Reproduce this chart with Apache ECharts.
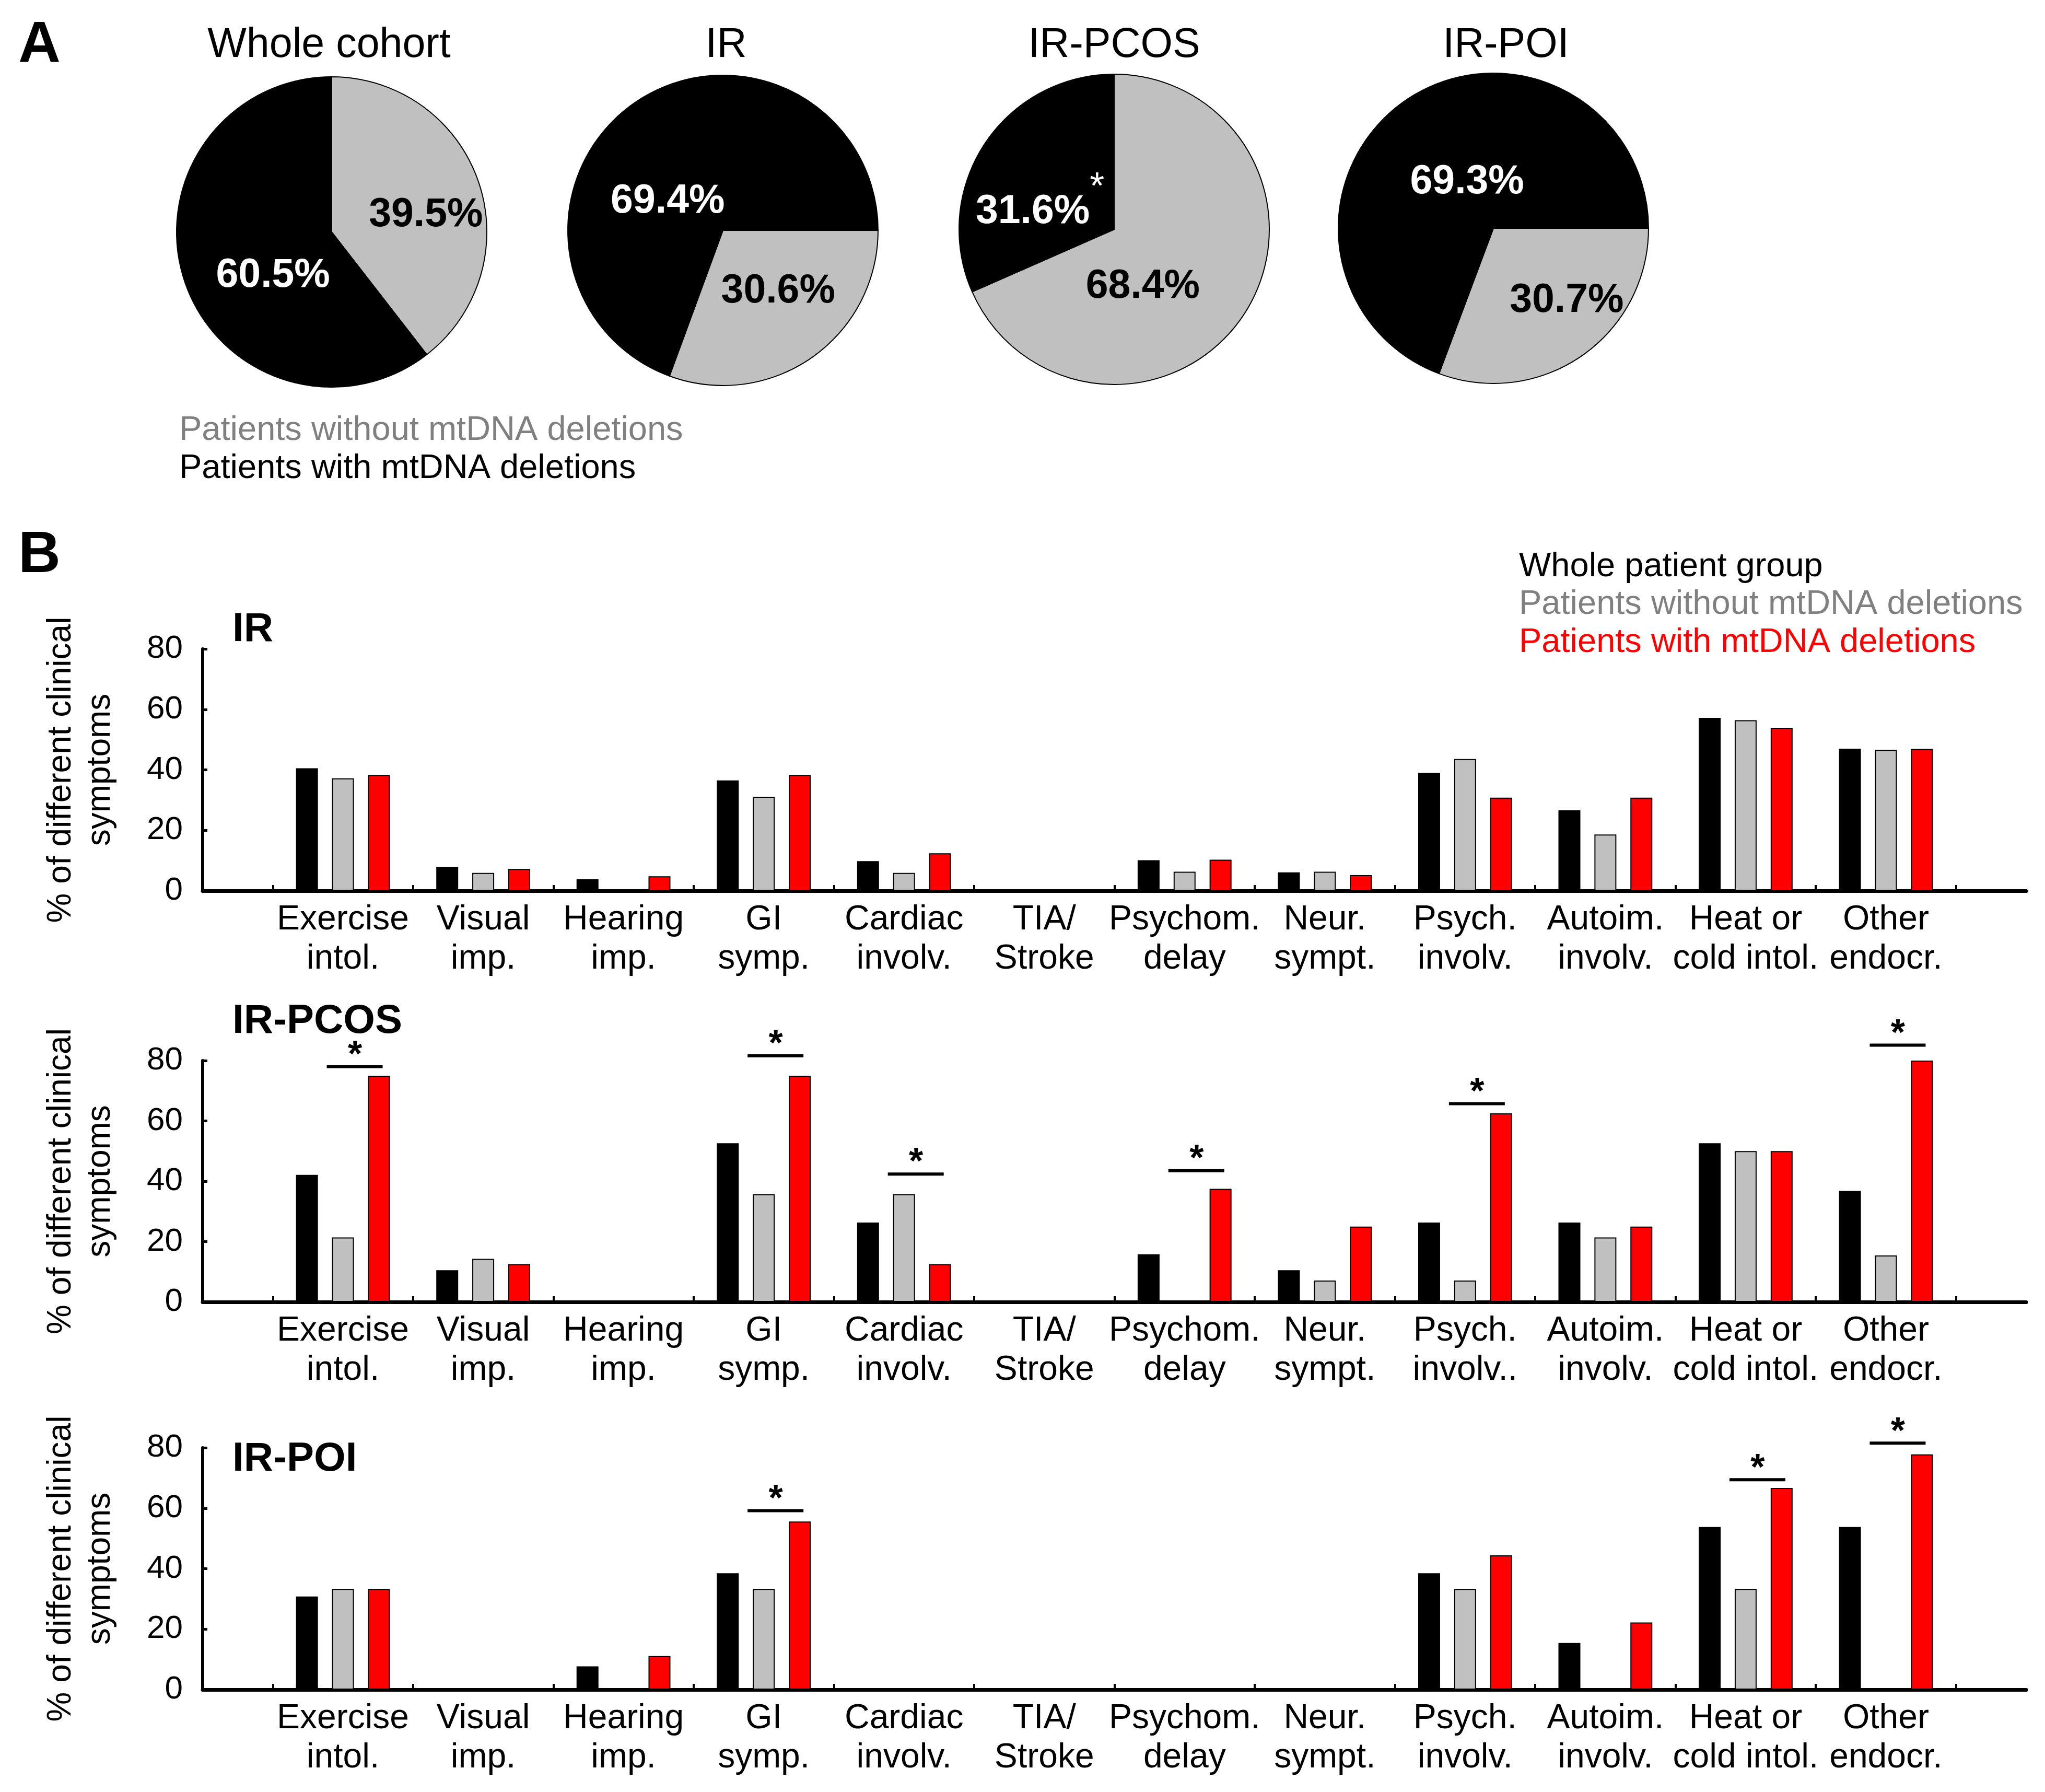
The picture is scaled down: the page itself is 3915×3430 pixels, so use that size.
<!DOCTYPE html>
<html>
<head>
<meta charset="utf-8">
<script src="https://cdn.jsdelivr.net/npm/echarts@6/dist/echarts.min.js"></script>
<style>
html,body{margin:0;padding:0;background:#fff;}
#main{width:3915px;height:3430px;}
</style>
</head>
<body>
<div id="main"></div>
<script>
// ---------- DATA ----------
const categories = ['Exercise\nintol.', 'Visual\nimp.', 'Hearing\nimp.', 'GI\nsymp.', 'Cardiac\ninvolv.', 'TIA/\nStroke',
  'Psychom.\ndelay', 'Neur.\nsympt.', 'Psych.\ninvolv.', 'Autoim.\ninvolv.', 'Heat or\ncold intol.', 'Other\nendocr.'];
const categoriesPCOS = ['Exercise\nintol.', 'Visual\nimp.', 'Hearing\nimp.', 'GI\nsymp.', 'Cardiac\ninvolv.', 'TIA/\nStroke',
  'Psychom.\ndelay', 'Neur.\nsympt.', 'Psych.\ninvolv..', 'Autoim.\ninvolv.', 'Heat or\ncold intol.', 'Other\nendocr.'];

const seriesNames = ['Whole patient group', 'Patients without mtDNA deletions', 'Patients with mtDNA deletions'];

const irWhole   = [40.5, 7.9, 3.8, 36.5, 9.8, 0, 10.1, 6.1, 39.0, 26.6, 57.2, 47.0];
const irWithout = [37.2, 5.9, 0,   31.1, 5.9, 0, 6.3,  6.3, 43.6, 18.6, 56.4, 46.6];
const irWith    = [38.3, 7.2, 4.8, 38.3, 12.4, 0, 10.3, 5.2, 30.8, 30.8, 53.9, 46.9];

const pcosWhole   = [42.1, 10.5, 0, 52.6, 26.3, 0, 15.8, 10.5, 26.3, 26.3, 52.6, 36.8];
const pcosWithout = [21.4, 14.3, 0, 35.7, 35.7, 0, 0,    7.1,  7.1, 21.4, 50.0, 15.4];
const pcosWith    = [75.0, 12.5, 0, 75.0, 12.5, 0, 37.5, 25.0, 62.5, 25.0, 50.0, 80.0];

const poiWhole   = [30.8, 0, 7.7,  38.5, 0, 0, 0, 0, 38.5, 15.4, 53.8, 53.8];
const poiWithout = [33.3, 0, 0,    33.3, 0, 0, 0, 0, 33.3, 0,    33.3, 0];
const poiWith    = [33.3, 0, 11.1, 55.6, 0, 0, 0, 0, 44.4, 22.2, 66.7, 77.8];

// significance bars (category index, level in % units)
const pcosSigCats   = [0, 3, 4, 6, 8, 11];
const pcosSigLevels = [78.0, 81.6, 42.4, 43.5, 65.7, 85.1];
const poiSigCats    = [3, 10, 11];
const poiSigLevels  = [59.2, 69.4, 81.5];
const irSigCats = [];
const irSigLevels = [];

const yTicks = [0, 20, 40, 60, 80];
const chartTitles = ['IR', 'IR-PCOS', 'IR-POI'];

// pies
const pieTitles  = ['Whole cohort', 'IR', 'IR-PCOS', 'IR-POI'];
const pieWithout = [39.5, 30.6, 68.4, 30.7];
const pieWith    = [60.5, 69.4, 31.6, 69.3];
const pieWithSig = [false, false, true, false];
const pieLegend  = ['Patients without mtDNA deletions', 'Patients with mtDNA deletions'];

// ---------- LAYOUT / STYLE ----------
const FONT = "'Liberation Sans', Arial, sans-serif";
const colBlack = '#000000', colGray = '#c0c0c0', colRed = '#ff0000', txtGray = '#808080';
const pieCenters = [[635, 444], [1384, 441], [2133, 439], [2859, 437]];
const pieRadius = 297;
const pieStart = [90, 0, 90, 0];
const pieTitleX = [630, 1390, 2133, 2883];
const pieLabelShift = [
  [[37, 17], [31, 35]],
  [[19, -7], [-19, 69]],
  [[-72, 27], [-15, 50]],
  [[54, 14], [36, 36]]
];
const grids = [
  {left: 388, right: 36, top: 1242, height: 463},
  {left: 388, right: 36, top: 2030, height: 462},
  {left: 388, right: 36, top: 2771, height: 463}
];
const chartTitleY = [1205, 1955, 2793];

// half-step category axis: positions 0, 0.5, ..., 13 ; categories at 1..12
const NPOS = 27;
const axisSlots = Array.from({length: NPOS}, (_, i) => 'p' + i);
function slotOf(ci) { return 2 * (ci + 1); }
function pad(arr) {
  const out = new Array(NPOS).fill('-');
  arr.forEach((v, i) => { out[slotOf(i)] = v; });
  return out;
}

const chartData = [
  {cats: categories,     vals: [irWhole, irWithout, irWith],       sigC: irSigCats,   sigL: irSigLevels},
  {cats: categoriesPCOS, vals: [pcosWhole, pcosWithout, pcosWith], sigC: pcosSigCats, sigL: pcosSigLevels},
  {cats: categories,     vals: [poiWhole, poiWithout, poiWith],    sigC: poiSigCats,  sigL: poiSigLevels}
];

const xAxes = [], yAxes = [], series = [];
chartData.forEach((cd, k) => {
  xAxes.push({
    type: 'category', gridIndex: k, data: axisSlots, boundaryGap: false,
    axisLine: {show: true, lineStyle: {color: '#000', width: 7}},
    axisTick: {show: true, inside: true, length: 11, lineStyle: {color: '#000', width: 4},
      interval: (i) => i % 2 === 1},
    axisLabel: {
      interval: (i) => i % 2 === 0 && i >= 2 && i <= 24,
      formatter: (v, i) => { const ci = i / 2 - 1; return (ci >= 0 && ci < cd.cats.length) ? cd.cats[ci] : ''; },
      color: '#000', fontFamily: FONT, fontSize: 66, lineHeight: 75, margin: 18
    },
    splitLine: {show: false}
  });
  yAxes.push({
    type: 'value', gridIndex: k, min: yTicks[0], max: yTicks[yTicks.length - 1], interval: yTicks[1] - yTicks[0],
    axisLine: {show: true, lineStyle: {color: '#000', width: 6}},
    axisTick: {show: true, inside: true, length: 9, lineStyle: {color: '#000', width: 5}},
    axisLabel: {color: '#000', fontFamily: FONT, fontSize: 62, margin: 38},
    splitLine: {show: false},
    name: '% of different clinical\nsymptoms', nameLocation: 'middle', nameRotate: 90, nameGap: 158,
    nameTextStyle: {color: '#000', fontFamily: FONT, fontSize: 64, lineHeight: 75}
  });
  const cols = [colBlack, colGray, colRed];
  cd.vals.forEach((arr, s) => {
    series.push({
      type: 'bar', name: seriesNames[s], xAxisIndex: k, yAxisIndex: k,
      data: pad(arr), barWidth: 42, barGap: '64%',
      itemStyle: {color: cols[s], borderColor: '#000', borderWidth: s === 0 ? 0 : 2},
      silent: true, animation: false
    });
  });
  if (cd.sigC.length) {
    series.push({
      type: 'custom', xAxisIndex: k, yAxisIndex: k, z: 10, silent: true, animation: false,
      data: cd.sigC.map((c, i) => [slotOf(c), cd.sigL[i]]),
      renderItem: (params, api) => {
        const p = api.coord([api.value(0), api.value(1)]);
        return {type: 'group', children: [
          {type: 'line', shape: {x1: p[0] - 31, y1: p[1], x2: p[0] + 76, y2: p[1]},
           style: {stroke: '#000', lineWidth: 6}},
          {type: 'text', style: {x: p[0] + 23, y: p[1] - 20, text: '*', align: 'center', verticalAlign: 'middle',
            font: 'bold 70px ' + FONT, fill: '#000'}}
        ]};
      }
    });
  }
});

// pies
pieWith.forEach((w, k) => {
  series.push({
    type: 'pie', center: pieCenters[k], radius: pieRadius, startAngle: pieStart[k], clockwise: true,
    silent: true, animation: false, avoidLabelOverlap: false,
    label: {show: true, position: 'inside', fontFamily: FONT, fontSize: 77, fontWeight: 'bold',
      formatter: (p) => p.value.toFixed(1) + '%' + ((p.dataIndex === 1 && pieWithSig[k]) ? '{s|*}' : ''),
      rich: {s: {fontSize: 72, fontWeight: 'normal', color: '#fff', fontFamily: FONT, padding: [0, 0, 92, 0], verticalAlign: 'top'}}
    },
    labelLine: {show: false},
    labelLayout: (params) => ({dx: pieLabelShift[k][params.dataIndex][0], dy: pieLabelShift[k][params.dataIndex][1]}),
    itemStyle: {borderColor: '#000', borderWidth: 2},
    data: [
      {name: pieLegend[0], value: pieWithout[k], itemStyle: {color: colGray}, label: {color: '#000'}},
      {name: pieLegend[1], value: w, itemStyle: {color: colBlack}, label: {color: '#fff'}}
    ]
  });
});

// text elements
const graphics = [];
function txt(x, y, text, size, color, weight, align) {
  graphics.push({type: 'text', x: x, y: y, silent: true,
    style: {text: text, font: (weight || 'normal') + ' ' + size + 'px ' + FONT, fill: color,
      align: align || 'left', verticalAlign: 'middle'}});
}
txt(35, 88, 'A', 112, '#000', 'bold');
txt(35, 1064, 'B', 112, '#000', 'bold');
pieTitles.forEach((t, k) => txt(pieTitleX[k], 87, t, 79, '#000', 'normal', 'center'));
txt(343, 824, pieLegend[0], 65, txtGray);
txt(343, 897, pieLegend[1], 65, '#000');
txt(2908, 1085, seriesNames[0], 65, '#000');
txt(2908, 1157, seriesNames[1], 65, txtGray);
txt(2908, 1230, seriesNames[2], 65, colRed);
chartTitles.forEach((t, k) => txt(445, chartTitleY[k], t, 78, '#000', 'bold'));

const chart = echarts.init(document.getElementById('main'), null, {renderer: 'canvas'});
chart.setOption({
  backgroundColor: '#fff',
  animation: false,
  grid: grids,
  xAxis: xAxes,
  yAxis: yAxes,
  series: series,
  graphic: graphics
});
</script>
</body>
</html>
